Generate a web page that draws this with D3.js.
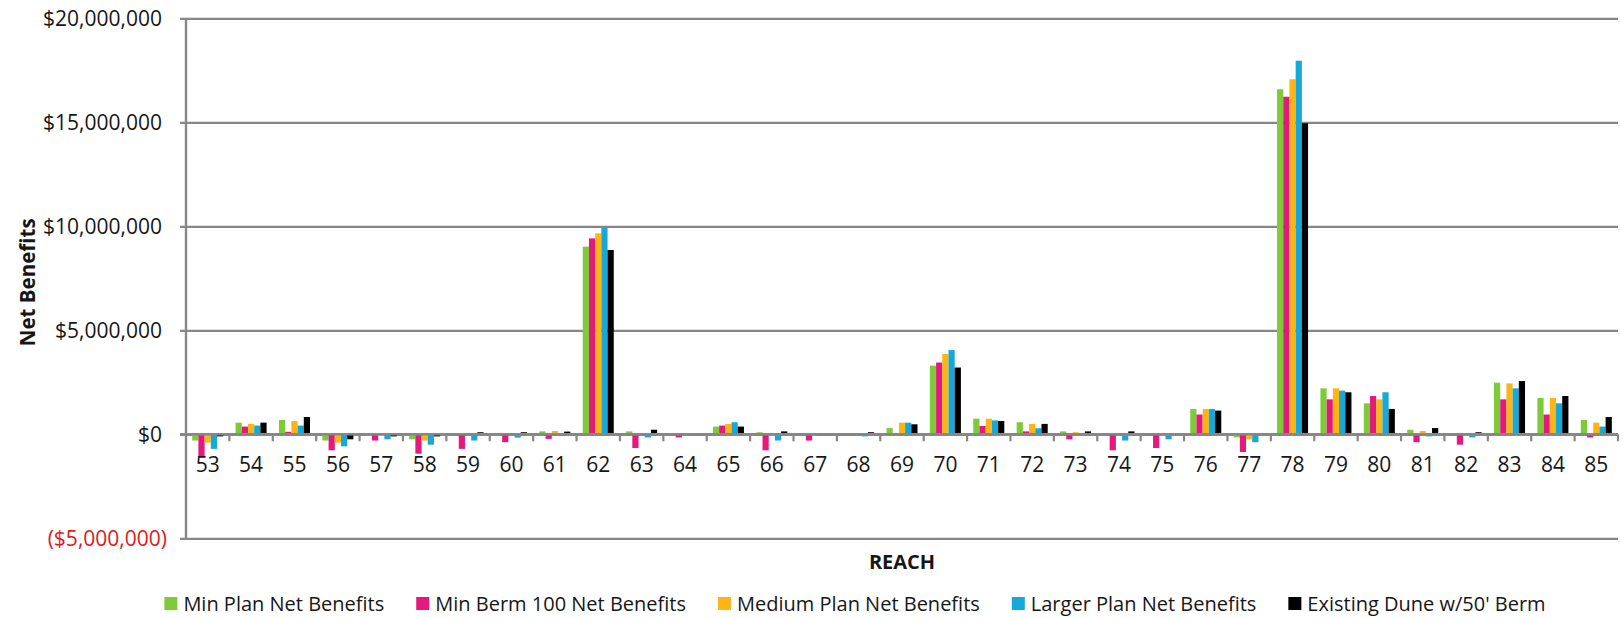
<!DOCTYPE html>
<html>
<head>
<meta charset="utf-8">
<script src="https://cdn.jsdelivr.net/npm/d3@7"></script>
<style>
  html, body { margin: 0; padding: 0; background: #ffffff; }
  svg { display: block; font-family: "Open Sans", "Noto Sans", sans-serif; }
</style>
</head>
<body>
<svg id="chart" width="1623" height="618"></svg>
<script>
// Reaches along the coast
const reaches = ["53","54","55","56","57","58","59","60","61","62","63","64","65","66","67","68","69",
                 "70","71","72","73","74","75","76","77","78","79","80","81","82","83","84","85"];

// Net benefits per reach, dollars
const minPlan = [-300000, 560000, 690000, -300000, -60000, -240000, -30000, -20000, 140000, 9020000,
                 140000, -20000, 370000, 100000, -30000, 0, 300000, 3300000, 750000, 580000, 140000,
                 -20000, -20000, 1220000, -150000, 16590000, 2210000, 1490000, 220000, -20000,
                 2480000, 1750000, 690000];
const minBerm100 = [-1100000, 370000, 120000, -770000, -300000, -930000, -700000, -380000, -220000, 9420000,
                    -660000, -150000, 420000, -770000, -300000, -20000, 60000, 3450000, 400000, 140000, -240000,
                    -770000, -660000, 950000, -850000, 16230000, 1680000, 1840000, -380000, -500000,
                    1680000, 950000, -150000];
const mediumPlan = [-400000, 500000, 640000, -400000, -80000, -300000, -20000, -20000, 160000, 9660000,
                    -20000, -20000, 500000, -50000, -50000, 0, 560000, 3860000, 750000, 500000, 100000,
                    -30000, -50000, 1220000, -240000, 17070000, 2210000, 1680000, 160000, -50000,
                    2450000, 1750000, 560000];
const largerPlan = [-700000, 420000, 420000, -580000, -240000, -500000, -300000, -160000, -30000, 9950000,
                    -150000, -80000, 580000, -300000, -50000, -100000, 560000, 4050000, 670000, 290000, -20000,
                    -300000, -240000, 1220000, -380000, 17960000, 2100000, 2020000, -100000, -150000,
                    2210000, 1490000, 370000];
const existingDune = [-100000, 560000, 830000, -240000, -100000, -100000, 100000, 100000, 130000, 8860000,
                      220000, 20000, 370000, 140000, 20000, 100000, 480000, 3210000, 640000, 500000, 140000,
                      140000, 20000, 1140000, 0, 14950000, 2020000, 1220000, 300000, 100000,
                      2560000, 1840000, 830000];

const seriesNames = ["Min Plan Net Benefits", "Min Berm 100 Net Benefits", "Medium Plan Net Benefits",
                     "Larger Plan Net Benefits", "Existing Dune w/50' Berm"];
const seriesValues = [minPlan, minBerm100, mediumPlan, largerPlan, existingDune];
const seriesColors = ["#7ecb3a", "#e5197b", "#fcb513", "#17a8da", "#000000"];

const yTicks = [-5000000, 0, 5000000, 10000000, 15000000, 20000000];

// Plot frame
const plotLeft = 186, plotRight = 1618, plotTop = 18.3, plotBottom = 538.3;
const gridColor = "#878787";
const textColor = "#161616";

const svg = d3.select("#chart");

const x = d3.scaleBand().domain(reaches).range([plotLeft, plotRight]).padding(0);
const groupW = x.bandwidth() * 0.715;
const x1 = d3.scaleBand().domain(d3.range(seriesNames.length))
  .range([(x.bandwidth() - groupW) / 2, (x.bandwidth() + groupW) / 2]).padding(0);
const y = d3.scaleLinear().domain([-5000000, 20000000]).range([plotBottom, plotTop]);

const money = d3.format("$,.0f");
const fmt = v => v < 0 ? "(" + money(-v) + ")" : money(v);

// Horizontal gridlines, left tick marks and value labels
const gridAxis = d3.axisLeft(y).tickValues(yTicks)
  .tickSize(plotRight - (plotLeft - 6)).tickPadding(18).tickFormat(fmt);
const gy = svg.append("g").attr("transform", `translate(${plotRight},0)`).call(gridAxis);
gy.select(".domain").remove();
gy.selectAll(".tick line").attr("stroke", gridColor).attr("stroke-width", 2.2);
gy.selectAll(".tick text")
  .attr("font-family", "'Open Sans', sans-serif")
  .attr("font-size", 21)
  .attr("fill", d => d < 0 ? "#e0191d" : textColor)
  .attr("dx", d => d < 0 ? 5 : 0);

// Bars
const groups = svg.append("g").selectAll("g")
  .data(reaches)
  .join("g")
  .attr("transform", d => `translate(${x(d)},0)`);

groups.selectAll("rect")
  .data((r, i) => seriesValues.map((vals, s) => ({ s, v: vals[i] })))
  .join("rect")
  .attr("x", d => x1(d.s))
  .attr("width", x1.bandwidth())
  .attr("y", d => y(Math.max(0, d.v)))
  .attr("height", d => Math.abs(y(d.v) - y(0)))
  .attr("fill", d => seriesColors[d.s]);

// Vertical axis line
svg.append("line")
  .attr("x1", plotLeft).attr("x2", plotLeft)
  .attr("y1", plotTop).attr("y2", plotBottom)
  .attr("stroke", gridColor).attr("stroke-width", 2.4);

// Zero axis with category boundary ticks
const axisY = y(0);
svg.append("line")
  .attr("x1", plotLeft - 6).attr("x2", plotRight)
  .attr("y1", axisY).attr("y2", axisY)
  .attr("stroke", gridColor).attr("stroke-width", 2.4);

const boundaries = reaches.map(r => x(r)).concat([x.range()[1]]);
svg.append("g").selectAll("line")
  .data(boundaries.slice(1))
  .join("line")
  .attr("x1", d => d).attr("x2", d => d)
  .attr("y1", axisY).attr("y2", axisY + 7)
  .attr("stroke", gridColor).attr("stroke-width", 2.2);

// Reach labels
const xAxis = d3.axisBottom(x).tickSize(0).tickPadding(23);
const gx = svg.append("g").attr("transform", `translate(0,${axisY})`).call(xAxis);
gx.select(".domain").remove();
gx.selectAll(".tick text")
  .attr("font-family", "'Open Sans', sans-serif")
  .attr("font-size", 21)
  .attr("fill", textColor);

// Axis titles
svg.append("text")
  .attr("transform", `translate(27,${(plotTop + plotBottom) / 2 + 4}) rotate(-90)`)
  .attr("text-anchor", "middle")
  .attr("dominant-baseline", "central")
  .attr("font-size", 20.5)
  .attr("font-weight", "bold")
  .attr("fill", textColor)
  .text("Net Benefits");

svg.append("text")
  .attr("x", (plotLeft + plotRight) / 2)
  .attr("y", 569)
  .attr("text-anchor", "middle")
  .attr("font-size", 20)
  .attr("font-weight", "bold")
  .attr("fill", textColor)
  .text("REACH");

// Legend laid out in one row
const legend = svg.append("g");
const sw = 13, swGap = 6, itemGap = 32, legendBase = 611;
let cursor = 0;
seriesNames.forEach((name, i) => {
  const item = legend.append("g").attr("transform", `translate(${cursor},0)`);
  item.append("rect")
    .attr("x", 0).attr("y", legendBase - 14)
    .attr("width", sw).attr("height", sw)
    .attr("fill", seriesColors[i]);
  const t = item.append("text")
    .attr("x", sw + swGap).attr("y", legendBase)
    .attr("font-size", 20)
    .attr("fill", textColor)
    .text(name);
  cursor += sw + swGap + t.node().getComputedTextLength() + itemGap;
});
const legendW = cursor - itemGap;
legend.attr("transform", `translate(${855 - legendW / 2},0)`);
</script>
</body>
</html>
